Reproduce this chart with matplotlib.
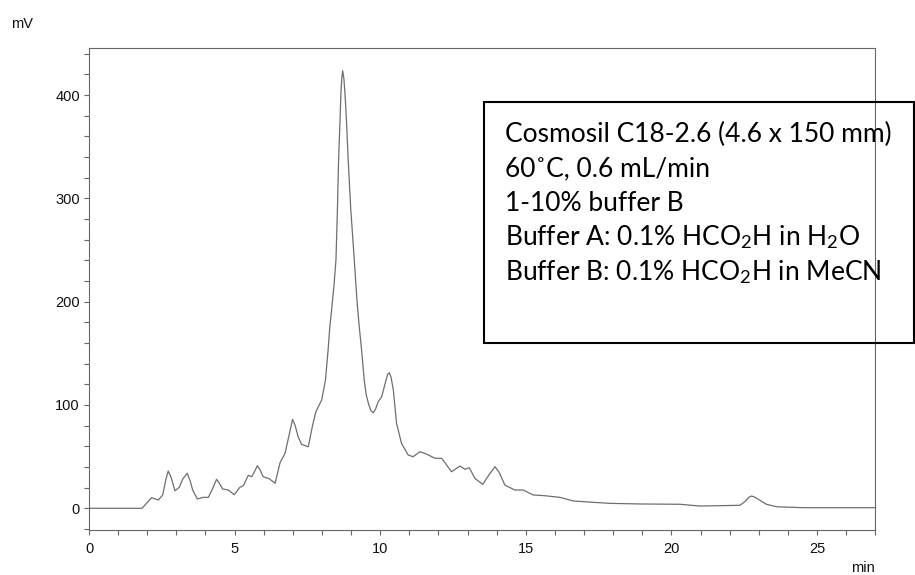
import matplotlib
matplotlib.use("Agg")
import matplotlib.pyplot as plt
from matplotlib.patches import Rectangle
from matplotlib.ticker import MultipleLocator

plt.rcParams["font.family"] = ["Liberation Sans", "DejaVu Sans"]
plt.rcParams["mathtext.fontset"] = "custom"
plt.rcParams["mathtext.rm"] = "Lato"
plt.rcParams["mathtext.it"] = "Lato:italic"

# retention time (min) and detector signal (mV)
time_min = [0.00, 1.82, 2.15, 2.38, 2.53, 2.64, 2.72, 2.82, 2.95, 3.10, 3.22, 3.37,
            3.47, 3.56, 3.72, 3.92, 4.10, 4.25, 4.38, 4.48, 4.59, 4.78, 4.99,
            5.18, 5.30, 5.47, 5.59, 5.70, 5.78, 5.88, 5.98, 6.19, 6.39, 6.56,
            6.73, 6.88, 6.99, 7.08, 7.18, 7.30, 7.53, 7.68, 7.79, 7.99, 8.12,
            8.21, 8.27, 8.33, 8.41, 8.48, 8.53, 8.57, 8.62, 8.65, 8.68, 8.71,
            8.75, 8.79, 8.84, 8.90, 8.99, 9.11, 9.20, 9.28, 9.36, 9.45, 9.52,
            9.61, 9.68, 9.76, 9.84, 9.93, 10.05, 10.20, 10.26,
            10.31, 10.37, 10.45, 10.56, 10.73, 10.96, 11.13, 11.36, 11.59, 11.88,
            12.11, 12.45, 12.74, 12.91, 13.06, 13.25, 13.52, 13.75, 13.94, 14.08,
            14.28, 14.62, 14.91, 15.25, 15.65, 16.17, 16.63, 17.31, 17.89, 18.91,
            20.29, 20.97, 22.35, 22.52, 22.65, 22.75, 22.86, 22.98, 23.26, 23.61,
            24.52, 27.00]
signal_mv = [0.0, 0.0, 10.3, 8.0, 12.9, 28.0, 36.1, 30.0, 17.0, 20.3, 28.4, 33.9,
             27.0, 17.7, 9.0, 10.6, 10.6, 19.4, 28.1, 24.0, 18.7, 17.7, 13.2,
             20.3, 21.9, 31.9, 30.6, 36.5, 41.2, 37.0, 30.6, 28.6, 24.2, 44.1,
             53.2, 72.0, 86.1, 80.0, 69.3, 61.9, 59.6, 80.6, 93.5, 104.8, 124.2,
             153.2, 175.7, 191.9, 215.0, 240.3, 288.7, 337.1, 375.8, 401.6, 416.4, 423.5,
             416.4, 401.6, 375.8, 337.1, 288.7, 240.3, 201.5, 175.7, 153.2, 124.2, 109.6,
             100.0, 94.5, 92.5, 96.0, 103.2, 108.0, 124.2, 130.0,
             131.2, 127.0, 114.5, 82.3, 62.9, 51.6, 49.9, 54.8, 52.5, 48.4,
             48.4, 35.4, 40.9, 37.7, 39.3, 29.0, 23.2, 33.0, 40.3, 35.0,
             22.5, 17.7, 17.7, 12.9, 12.2, 10.6, 7.1, 5.8, 4.8, 4.2,
             3.9, 2.2, 2.9, 6.4, 10.5, 11.9, 10.8, 8.7, 3.9, 1.5,
             0.6, 0.6]

info_lines = [
    "Cosmosil C18-2.6 (4.6 x 150 mm)",
    "60˚C, 0.6 mL/min",
    "1-10% buffer B",
    r"Buffer A: 0.1% HCO$_\mathrm{2}$H in H$_\mathrm{2}$O",
    r"Buffer B: 0.1% HCO$_\mathrm{2}$H in MeCN",
]

W, H = 915, 575
fig = plt.figure(figsize=(W / 100, H / 100), dpi=100)
ax = fig.add_axes([89 / W, 1 - 530 / H, (875.3 - 89) / W, (530 - 47.5) / H])

ax.plot(time_min, signal_mv, color="#6e6e6e", lw=0.9)

ax.set_xlim(0, 27)
ax.set_ylim(-21, 446)
ax.xaxis.set_major_locator(MultipleLocator(5))
ax.xaxis.set_minor_locator(MultipleLocator(1))
ax.yaxis.set_major_locator(MultipleLocator(100))
ax.yaxis.set_minor_locator(MultipleLocator(20))
ax.tick_params(which="both", direction="out", length=3.5, width=0.8,
               color="#666666", labelsize=10.5, labelcolor="#111111")
ax.tick_params(axis="x", which="both", pad=5)
ax.tick_params(axis="y", which="both", pad=3)
for sp in ax.spines.values():
    sp.set_color("#666666")
    sp.set_linewidth(0.8)

fig.text(11 / W, 1 - 28 / H, "mV", fontsize=10.5, color="#111111")
fig.text(875 / W, 1 - 572 / H, "min", fontsize=10.5, color="#111111", ha="right")

# conditions box, running off the right edge of the figure
fig.patches.append(Rectangle((484 / W, 1 - 343 / H), (914 - 484) / W, (343 - 102) / H,
                             transform=fig.transFigure, fill=False,
                             edgecolor="black", lw=1.5))
baselines = [142.0, 176.5, 211.0, 245.5, 280.0]
for line, yb in zip(info_lines, baselines):
    fig.text(505 / W, 1 - yb / H, line, fontsize=19, va="baseline",
             family=["Lato", "DejaVu Sans"], color="black")

fig.savefig("out.png", dpi=100)
